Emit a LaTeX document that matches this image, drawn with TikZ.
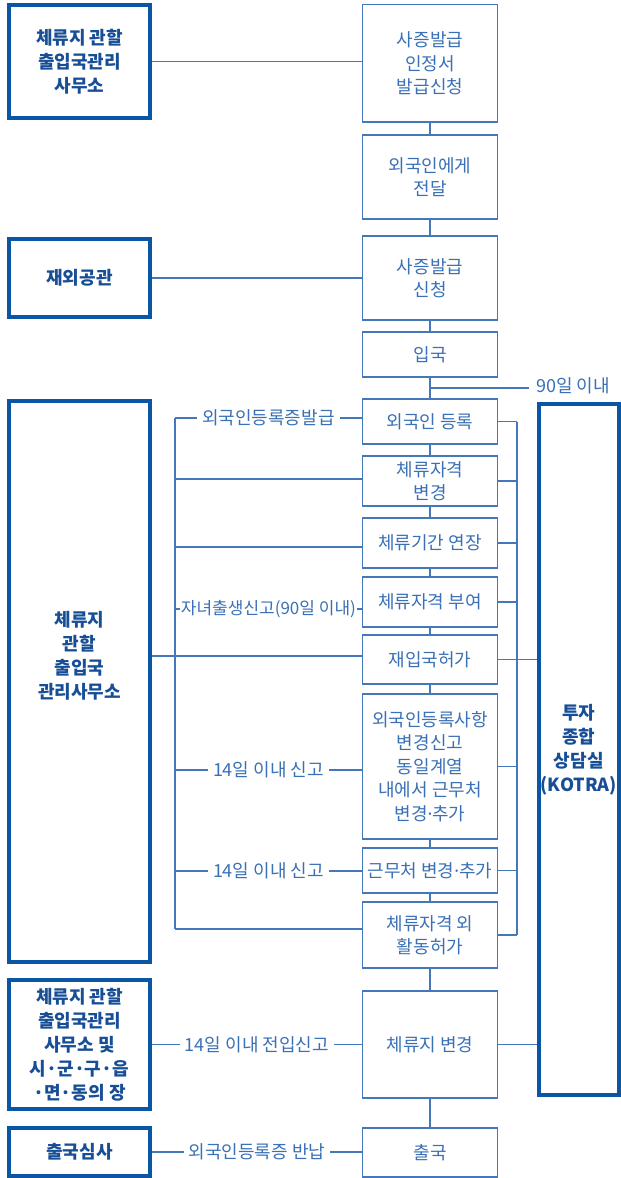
\documentclass[tikz,border=0pt]{standalone}
\usepackage{fontspec}
\setmainfont{Noto Sans CJK KR}
\newfontfamily\latf{Noto Sans}
\newcommand\ndot{{\latf ·}}
\definecolor{thickc}{HTML}{0A56A5}
\definecolor{thinc}{HTML}{4478BB}
\definecolor{ltxt}{HTML}{3A70B6}
\definecolor{btxt}{HTML}{174E96}
\begin{document}
\begin{tikzpicture}[x=1pt,y=-1pt,
  stepbox/.style={draw=thinc, line width=1.3pt, fill=white, text=ltxt, align=center,
    minimum width=135pt, inner sep=0pt, font=\fontsize{18}{23.5}\selectfont},
  orgbox/.style={draw=thickc, line width=4pt, fill=white, text=btxt, align=center,
    minimum width=141pt, inner sep=0pt, font=\bfseries\fontsize{18}{24}\selectfont},
  orgtext/.style={text=btxt, align=center, inner sep=0pt, font=\bfseries\fontsize{18}{24}\selectfont},
  conn/.style={draw=thinc, line width=1.2pt},
  lab/.style={fill=white, text=ltxt, inner xsep=5pt, inner ysep=1pt, font=\fontsize{18}{20}\selectfont},
]
\useasboundingbox (0,0) rectangle (621,1178);
\fill[white] (0,0) rectangle (621,1178);

% left organisation boxes
\node[orgbox, minimum height=113pt] (A) at (79.5,61.5) {체류지 관할\\출입국관리\\사무소};
\node[orgbox, minimum height=78pt] (B) at (79.5,278) {재외공관};
\node[orgbox, minimum height=561pt] (C) at (79.5,681.5) {};
\node[orgtext] (Ct) at (79.5,656) {체류지\\관할\\출입국\\관리사무소};
\node[orgbox, minimum height=129pt] (D) at (79.5,1044.5) {체류지 관할\\출입국관리\\사무소 및\\시·군·구·읍\\·면·동의 장};
\node[orgbox, minimum height=48pt] (E) at (79.5,1152) {출국심사};

% KOTRA
\node[orgbox, minimum width=79.5pt, minimum height=691pt] (K) at (578.75,749.5) {투자\\종합\\상담실\\(KOTRA)};

% centre steps
\node[stepbox, minimum height=117.5pt] (b1) at (430,63.25) {사증발급\\인정서\\발급신청};
\node[stepbox, minimum height=84pt] (b2) at (430,177) {외국인에게\\전달};
\node[stepbox, minimum height=84pt] (b3) at (430,278) {사증발급\\신청};
\node[stepbox, minimum height=45pt] (b4) at (430,354.5) {입국};
\node[stepbox, minimum height=45pt] (b5) at (430,421.5) {외국인 등록};
\node[stepbox, minimum height=50pt] (b6) at (430,481) {체류자격\\변경};
\node[stepbox, minimum height=50pt] (b7) at (430,543) {체류기간 연장};
\node[stepbox, minimum height=50pt] (b8) at (430,602) {체류자격 부여};
\node[stepbox, minimum height=49pt] (b9) at (430,659.5) {재입국허가};
\node[stepbox, minimum height=145pt] (b10) at (430,766.5) {외국인등록사항\\변경신고\\동일계열\\내에서 근무처\\변경\ndot 추가};
\node[stepbox, minimum height=45pt] (b11) at (430,870.5) {근무처 변경\ndot 추가};
\node[stepbox, minimum height=66pt] (b12) at (430,935) {체류자격 외\\활동허가};
\node[stepbox, minimum height=107pt] (b13) at (430,1044.5) {체류지 변경};
\node[stepbox, minimum height=49pt] (b14) at (430,1152.5) {출국};

% spine
\foreach \i/\j in {b1/b2,b2/b3,b3/b4,b4/b5,b5/b6,b6/b7,b7/b8,b8/b9,b9/b10,b10/b11,b11/b12,b12/b13,b13/b14}
  \draw[conn] (\i.south) -- (\j.north);

% 90 days branch
\coordinate (d90) at (430,388);
\coordinate (e90) at (529,388);
\draw[conn] (d90) -- (e90);
\node[text=ltxt, anchor=west, inner sep=0pt, font=\fontsize{18}{20}\selectfont] (t90) at (536,386) {90일 이내};

% left organisation links
\draw[conn] (A) -- (A -| b1.west);
\draw[conn] (B) -- (B -| b3.west);
\draw[conn] (C.east |- Ct) -- (Ct -| b9.west);
\draw[conn] (D) -- (D -| b13.west) node[lab, midway] {14일 이내 전입신고};
\draw[conn] (E) -- (E -| b14.west) node[lab, midway] {외국인등록증 반납};

% left bus
\coordinate (L1) at (175,418);
\coordinate (L2) at (175,479);
\coordinate (L3) at (175,547);
\coordinate (L4) at (175,609);
\coordinate (L6) at (175,770);
\coordinate (L7) at (175,871);
\coordinate (L8) at (175,929);
\draw[conn] (L1) -- (L8);
\draw[conn] (L1) -- (L1 -| b5.west) node[lab, midway] {외국인등록증발급};
\draw[conn] (L2) -- (L2 -| b6.west);
\draw[conn] (L3) -- (L3 -| b7.west);
\draw[conn] (L4) -- (L4 -| b8.west) node[lab, midway, inner xsep=1pt, font=\fontsize{17}{20}\selectfont] {자녀출생신고(90일 이내)};
\draw[conn] (L6) -- (L6 -| b10.west) node[lab, midway] {14일 이내 신고};
\draw[conn] (L7) -- (L7 -| b11.west) node[lab, midway] {14일 이내 신고};
\draw[conn] (L8) -- (L8 -| b12.west);

% right bus
\coordinate (rtop) at (517,421.5);
\coordinate (rbot) at (517,935);
\draw[conn] (rtop) -- (rbot);
\foreach \b in {b5,b6,b7,b8,b10,b11,b12}
  \draw[conn] (\b.east) -- (\b.east -| rtop);
\draw[conn] (b9.east) -- (b9.east -| K.west);
\draw[conn] (b13.east) -- (b13.east -| K.west);
\end{tikzpicture}
\end{document}
